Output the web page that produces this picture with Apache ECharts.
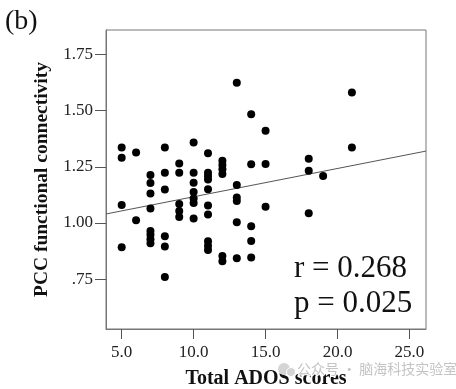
<!DOCTYPE html>
<html>
<head>
<meta charset="utf-8">
<script src="https://cdn.jsdelivr.net/npm/echarts@6/dist/echarts.min.js"></script>
<style>
html,body{margin:0;padding:0;background:#fff;}
#chart{width:456px;height:389px;}
</style>
</head>
<body>
<div id="chart"></div>
<script>
// ADOS scores (x) and PCC functional connectivity (y)
const adosScores = [
  5,5,5,5,
  6,6,
  7,7,7,7,7,7,7,7,
  8,8,8,8,8,8,
  9,9,9,9,9,
  10,10,10,10,10,10,10,
  11,11,11,11,11,11,11,11,11,11,
  12,12,12,12,12,12,
  13,13,13,13,13,13,
  14,14,14,14,14,
  15,15,15,
  18,18,18,
  19,
  21,21
];
const pccValues = [
  1.336,1.290,1.080,0.892,
  1.314,1.012,
  1.213,1.178,1.131,1.064,0.964,0.947,0.928,0.910,
  1.336,1.224,1.149,0.941,0.895,0.759,
  1.265,1.224,1.084,1.053,1.027,
  1.358,1.224,1.179,1.138,1.109,1.089,1.020,
  1.310,1.224,1.209,1.194,1.150,1.078,1.038,0.919,0.899,0.880,
  1.277,1.258,1.239,1.218,0.853,0.830,
  1.624,1.169,1.113,1.098,1.003,0.843,
  1.484,1.261,0.985,0.920,0.846,
  1.410,1.262,1.072,
  1.286,1.232,1.043,
  1.209,
  1.581,1.336
];
// Fit line endpoints (x, y)
const fitLineX = [3.91, 26.15];
const fitLineY = [1.040, 1.320];
// Tick values
const xTicks = [5, 10, 15, 20, 25];
const yTicks = [0.75, 1.00, 1.25, 1.50, 1.75];
const statR = 'r = 0.268';
const statP = 'p = 0.025';

const serif = '"Liberation Serif", "Times New Roman", serif';
const points = adosScores.map((x, i) => [x, pccValues[i]]);
const fitLine = fitLineX.map((x, i) => [x, fitLineY[i]]);

const chart = echarts.init(document.getElementById('chart'));
chart.setOption({
  animation: false,
  backgroundColor: '#ffffff',
  grid: {
    left: 106, right: 30, top: 30, bottom: 60,
    show: true, borderColor: '#777', borderWidth: 1,
    backgroundColor: 'transparent',
    outerBoundsMode: 'none'
  },
  xAxis: {
    type: 'value',
    min: 3.91, max: 26.15,
    name: 'Total ADOS scores',
    nameLocation: 'middle',
    nameGap: 40,
    nameTextStyle: { fontFamily: serif, fontWeight: 'bold', fontSize: 20, color: '#111' },
    axisLine: { show: true, lineStyle: { color: '#777', width: 1 } },
    axisTick: { show: true, length: 10, inside: false, customValues: xTicks, lineStyle: { color: '#555' } },
    axisLabel: { customValues: xTicks, margin: 15, fontFamily: serif, fontSize: 17, color: '#222',
      formatter: v => v.toFixed(1) },
    splitLine: { show: false }
  },
  yAxis: {
    type: 'value',
    min: 0.528, max: 1.859,
    name: 'PCC functional connectivity',
    nameLocation: 'middle',
    nameGap: 51,
    nameTextStyle: { fontFamily: serif, fontWeight: 'bold', fontSize: 19.5, color: '#111' },
    axisLine: { show: true, lineStyle: { color: '#777', width: 1 } },
    axisTick: { show: true, length: 11, inside: false, customValues: yTicks, lineStyle: { color: '#555' } },
    axisLabel: { customValues: yTicks, margin: 13, fontFamily: serif, fontSize: 17, color: '#222',
      formatter: v => (v < 1 ? v.toFixed(2).replace(/^0/, '') : v.toFixed(2)) },
    splitLine: { show: false }
  },
  series: [
    {
      type: 'line',
      data: fitLine,
      showSymbol: false,
      silent: true,
      lineStyle: { color: '#555', width: 1 },
      z: 1
    },
    {
      type: 'scatter',
      data: points,
      symbol: 'circle',
      symbolSize: 8,
      itemStyle: { color: '#000', opacity: 1 },
      z: 2
    }
  ],
  graphic: [
    { type: 'text', left: 5, top: 8, style: { text: '(b)', font: '28px ' + serif, fill: '#111' } },
    { type: 'text', left: 294, top: 253, style: { text: statR, font: '31px ' + serif, fill: '#111' } },
    { type: 'text', left: 294, top: 288, style: { text: statP, font: '31px ' + serif, fill: '#111' } },
    { type: 'circle', shape: { cx: 284, cy: 369, r: 6 }, style: { fill: '#d4d4d4' }, z: 10 },
    { type: 'circle', shape: { cx: 291, cy: 372, r: 4.5 }, style: { fill: '#d4d4d4', stroke: '#fff', lineWidth: 1 }, z: 10 },
    { type: 'text', left: 296, top: 361, z: 10,
      style: { text: '公众号 · 脑海科技实验室', font: '14px "Noto Sans CJK SC", sans-serif', fill: '#c4c4c4',
        stroke: '#ffffff', lineWidth: 2 } }
  ]
});
</script>
</body>
</html>
